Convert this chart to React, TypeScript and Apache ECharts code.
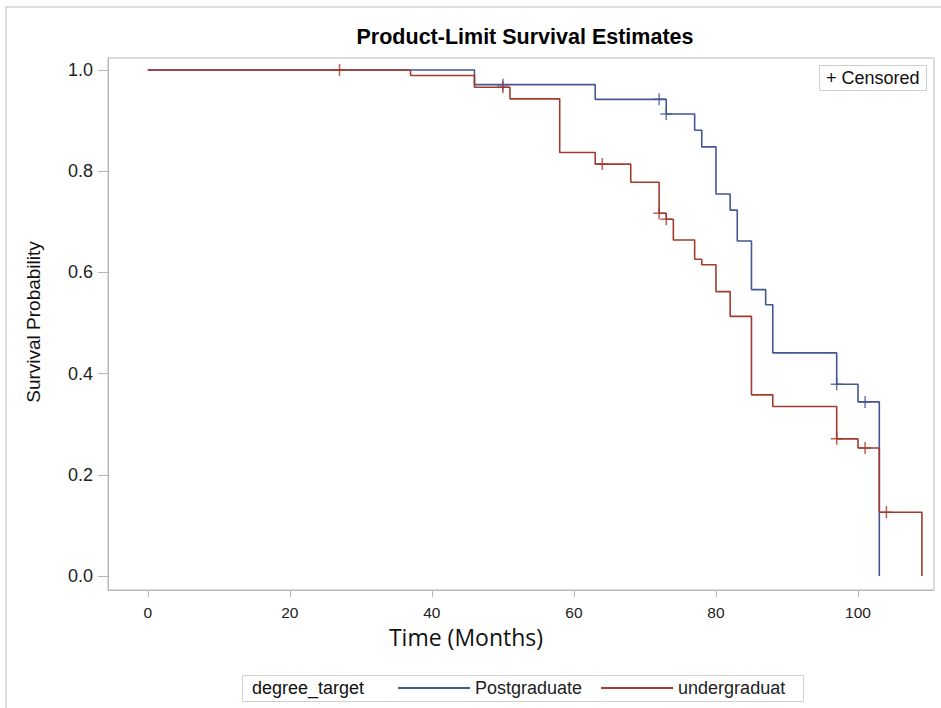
import React, { useEffect, useRef } from "react";
import * as echarts from "echarts";

// Kaplan-Meier step points [month, survival]
const postgraduateSteps: [number, number][] = [
  [0, 1], [46, 0.971], [63, 0.942], [73, 0.913], [77, 0.881], [78, 0.848],
  [80, 0.755], [82, 0.723], [83, 0.662], [85, 0.566], [87, 0.536], [88, 0.441],
  [97, 0.379], [100, 0.344], [103, 0],
];
const undergradSteps: [number, number][] = [
  [0, 1], [37, 0.989], [46, 0.966], [51, 0.943], [58, 0.837], [63, 0.814],
  [68, 0.778], [72, 0.717], [73, 0.705], [74, 0.664], [77, 0.626], [78, 0.615],
  [80, 0.562], [82, 0.513], [85, 0.358], [88, 0.335], [97, 0.271], [100, 0.253],
  [103, 0.126], [109, 0],
];
const postgraduateCensored: [number, number][] = [
  [50, 0.971], [72, 0.942], [73, 0.913], [97, 0.379], [101, 0.344],
];
const undergradCensored: [number, number][] = [
  [27, 1], [50, 0.966], [64, 0.814], [72, 0.717], [73, 0.705], [97, 0.271],
  [101, 0.253], [104, 0.126],
];
const xTicks = [0, 20, 40, 60, 80, 100];
const yTicks = [0, 0.2, 0.4, 0.6, 0.8, 1.0];

const BLUE = "#445694";
const RED = "#A23A2E";
const FRAME = "#b4b8bc";
const PLUS = "path://M5,0V10M0,5H10";

export default function App() {
  const ref = useRef<HTMLDivElement>(null);
  useEffect(() => {
    if (!ref.current) return;
    const chart = echarts.init(ref.current, undefined, { renderer: "svg" });
    const font = "'Liberation Sans', Arial, sans-serif";
    chart.setOption({
      animation: false,
      backgroundColor: "#ffffff",
      textStyle: { fontFamily: font },
      title: {
        text: "Product-Limit Survival Estimates",
        left: 520,
        top: 21,
        textAlign: "center",
        textStyle: { fontSize: 21.5, fontWeight: "bold", color: "#000", fontFamily: font },
      },
      grid: {
        left: 108,
        top: 58,
        right: 7,
        bottom: 118,
        show: true,
        borderColor: FRAME,
        borderWidth: 1,
        containLabel: false,
      },
      xAxis: {
        type: "value",
        min: -5.6,
        max: 110.7,
        axisLine: { show: true, onZero: false, lineStyle: { color: FRAME } },
        axisTick: { show: true, length: 7, lineStyle: { color: FRAME }, customValues: xTicks },
        axisLabel: {
          customValues: xTicks,
          margin: 14,
          fontSize: 15.5,
          color: "#222",
          fontFamily: font,
        },
        splitLine: { show: false },
      },
      yAxis: {
        type: "value",
        min: -0.0277,
        max: 1.0237,
        axisLine: { show: true, onZero: false, lineStyle: { color: FRAME } },
        axisTick: { show: true, length: 10, lineStyle: { color: FRAME }, customValues: yTicks },
        axisLabel: {
          customValues: yTicks,
          margin: 15,
          fontSize: 18,
          color: "#222",
          fontFamily: font,
          formatter: (v: number) => v.toFixed(1),
        },
        splitLine: { show: false },
      },
      legend: {
        data: ["Postgraduate", "undergraduat"],
        left: 398,
        top: 679,
        icon: "rect",
        itemWidth: 72,
        itemHeight: 2,
        itemGap: 19,
        textStyle: { fontSize: 18, color: "#222", fontFamily: font, lineHeight: 18 },
        padding: 0,
      },
      graphic: [
        {
          type: "rect",
          shape: { x: 6, y: 7, width: 960, height: 720 },
          style: { fill: "none", stroke: "#d4d4d4", lineWidth: 1.5 },
          silent: true,
        },
        {
          type: "rect",
          shape: { x: 819.5, y: 65.5, width: 107, height: 25 },
          style: { fill: "#fff", stroke: "#d0d0d0", lineWidth: 1 },
        },
        {
          type: "text",
          x: 826,
          y: 78,
          style: { text: "+ Censored", fontSize: 18, fill: "#111", fontFamily: font, textVerticalAlign: "middle" },
        },
        {
          type: "rect",
          shape: { x: 242.5, y: 675.5, width: 561, height: 26 },
          style: { fill: "none", stroke: "#d0d0d0", lineWidth: 1 },
        },
        {
          type: "text",
          x: 252,
          y: 688,
          style: { text: "degree_target", fontSize: 18, fill: "#111", fontFamily: font, textVerticalAlign: "middle" },
        },
        {
          type: "text",
          x: 33,
          y: 322,
          rotation: Math.PI / 2,
          style: {
            text: "Survival Probability",
            fontSize: 19,
            fill: "#111",
            fontFamily: font,
            textAlign: "center",
            textVerticalAlign: "middle",
          },
        },
        {
          type: "text",
          x: 466,
          y: 637,
          style: {
            text: "Time (Months)",
            fontSize: 23,
            fill: "#111",
            fontFamily: "'Open Sans', sans-serif",
            textAlign: "center",
            textVerticalAlign: "middle",
          },
        },
      ],
      series: [
        {
          name: "Postgraduate",
          type: "line",
          step: "end",
          data: postgraduateSteps,
          symbol: "none",
          lineStyle: { color: BLUE, width: 1.6 },
          itemStyle: { color: BLUE },
          z: 2,
        },
        {
          name: "undergraduat",
          type: "line",
          step: "end",
          data: undergradSteps,
          symbol: "none",
          lineStyle: { color: RED, width: 1.6 },
          itemStyle: { color: RED },
          z: 3,
        },
        {
          name: "pgCensored",
          type: "scatter",
          data: postgraduateCensored,
          symbol: PLUS,
          symbolSize: 12,
          itemStyle: { color: "none", borderColor: BLUE, borderWidth: 1.5 },
          z: 4,
        },
        {
          name: "ugCensored",
          type: "scatter",
          data: undergradCensored,
          symbol: PLUS,
          symbolSize: 12,
          itemStyle: { color: "none", borderColor: RED, borderWidth: 1.5 },
          z: 5,
        },
      ],
    });
    return () => chart.dispose();
  }, []);
  return (
    <div
      ref={ref}
      style={{ position: "fixed", left: 0, top: 0, width: 941, height: 708 }}
    />
  );
}
